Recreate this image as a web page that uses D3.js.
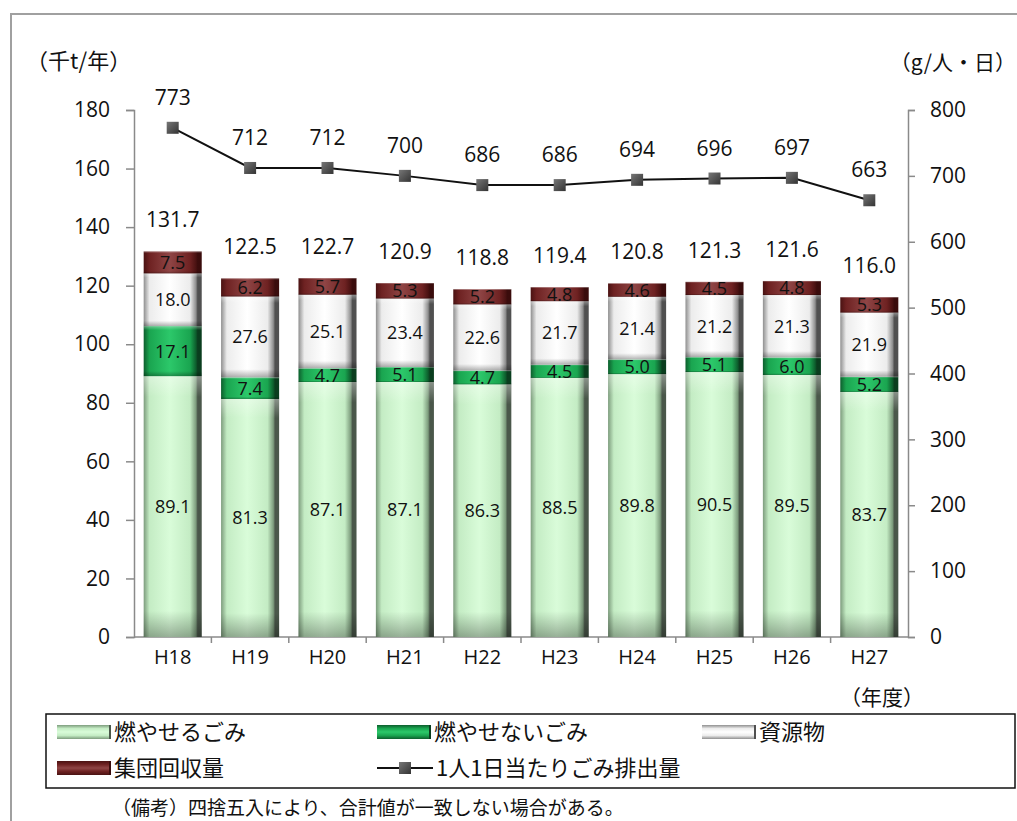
<!DOCTYPE html>
<html><head><meta charset="utf-8">
<script src="https://cdn.jsdelivr.net/npm/d3@7"></script>
<style>
html,body{margin:0;padding:0;background:#fff;}
svg{display:block;}
text{font-family:"Open Sans","Noto Sans CJK JP",sans-serif;fill:#111;}
.jp{font-family:"Noto Sans CJK JP",sans-serif;}
</style></head>
<body>
<svg id="c" width="1017" height="821"></svg>
<script>
const categories = ["H18","H19","H20","H21","H22","H23","H24","H25","H26","H27"];
const burnable   = [89.1, 81.3, 87.1, 87.1, 86.3, 88.5, 89.8, 90.5, 89.5, 83.7];
const nonBurnable= [17.1, 7.4, 4.7, 5.1, 4.7, 4.5, 5.0, 5.1, 6.0, 5.2];
const resources  = [18.0, 27.6, 25.1, 23.4, 22.6, 21.7, 21.4, 21.2, 21.3, 21.9];
const groupCollection = [7.5, 6.2, 5.7, 5.3, 5.2, 4.8, 4.6, 4.5, 4.8, 5.3];
const totals     = [131.7, 122.5, 122.7, 120.9, 118.8, 119.4, 120.8, 121.3, 121.6, 116.0];
const perCapita  = [773, 712, 712, 700, 686, 686, 694, 696, 697, 663];
const leftTicks  = [0,20,40,60,80,100,120,140,160,180];
const rightTicks = [0,100,200,300,400,500,600,700,800];
const seriesNames = ["燃やせるごみ","燃やせないごみ","資源物","集団回収量"];
const lineName = "1人1日当たりごみ排出量";

const svg = d3.select("#c");
const defs = svg.append("defs");

const styles = [
  {key:"b", edge:"#7d9c7d", mid:"#c4ecc4", center:"#d9fcd9", dark:"#4a574a", text:"#222"},
  {key:"n", edge:"#0d5e2d", mid:"#1aa550", center:"#2cc86a", dark:"#0a3d1e", text:"#fff"},
  {key:"r", edge:"#8f8f8f", mid:"#ececec", center:"#ffffff", dark:"#505050", text:"#222"},
  {key:"g", edge:"#4a1212", mid:"#6e2222", center:"#8f4545", dark:"#3a0c0c", text:"#fff"}
];
styles.forEach(s=>{
  const g = defs.append("linearGradient").attr("id","h"+s.key).attr("x1",0).attr("x2",1).attr("y1",0).attr("y2",0);
  [[0,s.edge],[0.1,s.mid],[0.45,s.center],[0.8,s.mid],[0.9,s.edge],[0.93,s.dark],[1,s.dark]].forEach(([o,c])=>g.append("stop").attr("offset",o).attr("stop-color",c));
  const v = defs.append("linearGradient").attr("id","v"+s.key).attr("x1",0).attr("x2",0).attr("y1",0).attr("y2",1);
  [[0,s.edge],[0.25,s.mid],[0.5,s.center],[0.75,s.mid],[1,s.edge]].forEach(([o,c])=>v.append("stop").attr("offset",o).attr("stop-color",c));
});
const shade = defs.append("linearGradient").attr("id","shade").attr("x1",0).attr("x2",0).attr("y1",0).attr("y2",1);
[[0,"#fff",0.35],[0.08,"#fff",0],[0.9,"#000",0],[1,"#000",0.3]].forEach(([o,c,a])=>shade.append("stop").attr("offset",o).attr("stop-color",c).attr("stop-opacity",a));
const mk = defs.append("linearGradient").attr("id","mk").attr("x1",0).attr("x2",1).attr("y1",0).attr("y2",1);
[[0,"#777"],[0.5,"#555"],[1,"#333"]].forEach(([o,c])=>mk.append("stop").attr("offset",o).attr("stop-color",c));

// outer frame
svg.append("path").attr("d","M11,821 V14 H1017").attr("fill","none").attr("stroke","#a0a0a0").attr("stroke-width",2);

const x0 = 134, x1 = 908, yTop = 110, yBot = 637;
const x = d3.scaleBand().domain(categories).range([x0,x1]).paddingInner(0.25).paddingOuter(0.125);
const xb = d3.scaleBand().domain(categories).range([x0,x1]);
const yL = d3.scaleLinear().domain([0,180]).range([yBot,yTop]);
const yR = d3.scaleLinear().domain([0,800]).range([yBot,yTop]);

// axes
const axL = svg.append("g").attr("transform",`translate(${x0},0)`)
  .call(d3.axisLeft(yL).tickValues(leftTicks).tickSize(8).tickPadding(16));
const axR = svg.append("g").attr("transform",`translate(${x1},0)`)
  .call(d3.axisRight(yR).tickValues(rightTicks).tickSize(7).tickPadding(15));
[axL,axR].forEach(a=>{
  a.selectAll("path,line").attr("stroke","#8a8a8a").attr("stroke-width",1.5);
  a.selectAll("text").attr("font-size",21).attr("fill","#111").style("font-family","'Open Sans',sans-serif");
});
// x axis
const axX = svg.append("g").attr("transform",`translate(0,${yBot})`);
axX.append("line").attr("x1",x0).attr("x2",x1).attr("stroke","#8a8a8a").attr("stroke-width",1.5);
axX.selectAll("line.t").data(categories.slice(1)).join("line").attr("class","t")
  .attr("x1",d=>xb(d)).attr("x2",d=>xb(d)).attr("y1",0).attr("y2",6).attr("stroke","#8a8a8a").attr("stroke-width",1.5);
axX.selectAll("text").data(categories).join("text")
  .attr("x",d=>xb(d)+xb.bandwidth()/2).attr("y",27).attr("text-anchor","middle")
  .attr("font-size",20).text(d=>d);

// stacked bars
const seriesData = [burnable, nonBurnable, resources, groupCollection];
const rows = categories.map((c,i)=>({cat:c, b:burnable[i], n:nonBurnable[i], r:resources[i], g:groupCollection[i]}));
const stack = d3.stack().keys(["b","n","r","g"])(rows);
stack.forEach((layer,li)=>{
  const s = styles[li];
  const g = svg.append("g");
  layer.forEach((d,i)=>{
    const bx = x(categories[i]), bw = x.bandwidth();
    const yt = yL(d[1]), yb = yL(d[0]);
    g.append("rect").attr("x",bx).attr("y",yt).attr("width",bw).attr("height",yb-yt).attr("fill",`url(#h${s.key})`);
    g.append("rect").attr("x",bx).attr("y",yt).attr("width",bw).attr("height",yb-yt).attr("fill","url(#shade)");
    g.append("text").attr("x",bx+bw/2).attr("y",(yt+yb)/2).attr("dy","0.36em")
      .attr("text-anchor","middle").attr("font-size",18).attr("fill",s.text)
      .text(seriesData[li][i].toFixed(1));
  });
});

// totals
svg.append("g").selectAll("text").data(totals).join("text")
  .attr("x",(d,i)=>xb(categories[i])+xb.bandwidth()/2).attr("y",(d,i)=>yL(d)-24)
  .attr("text-anchor","middle").attr("font-size",21).text(d=>d.toFixed(1));

// line
const cx = i=>xb(categories[i])+xb.bandwidth()/2;
svg.append("path").datum(perCapita)
  .attr("d",d3.line().x((d,i)=>cx(i)).y(d=>yR(d)))
  .attr("fill","none").attr("stroke","#111").attr("stroke-width",2);
svg.append("g").selectAll("rect").data(perCapita).join("rect")
  .attr("x",(d,i)=>cx(i)-6).attr("y",d=>yR(d)-6).attr("width",12).attr("height",12).attr("fill","url(#mk)");
svg.append("g").selectAll("text").data(perCapita).join("text")
  .attr("x",(d,i)=>cx(i)).attr("y",d=>yR(d)-23)
  .attr("text-anchor","middle").attr("font-size",21).text(d=>d);

// unit labels
svg.append("text").attr("class","jp").attr("x",26).attr("y",69).attr("font-size",22).text("（千t/年）");
svg.append("text").attr("class","jp").attr("x",1016).attr("y",70).attr("text-anchor","end").attr("font-size",21).text("（g/人・日）");
svg.append("text").attr("class","jp").attr("x",924).attr("y",705).attr("text-anchor","end").attr("font-size",21).text("（年度）");

// legend
svg.append("rect").attr("x",46).attr("y",714).attr("width",969).attr("height",74).attr("fill","#fff").attr("stroke","#111").attr("stroke-width",1.5);
const legItems = [
  {name:seriesNames[0], s:0, lx:57, ly:732},
  {name:seriesNames[1], s:1, lx:377, ly:732},
  {name:seriesNames[2], s:2, lx:702, ly:732},
  {name:seriesNames[3], s:3, lx:57, ly:768}
];
const lg = svg.append("g");
legItems.forEach(it=>{
  lg.append("rect").attr("x",it.lx).attr("y",it.ly-7).attr("width",54).attr("height",14).attr("fill",`url(#v${styles[it.s].key})`);
  lg.append("rect").attr("x",it.lx+52).attr("y",it.ly-7).attr("width",2).attr("height",14).attr("fill",styles[it.s].dark);
  lg.append("text").attr("class","jp").attr("x",it.lx+57).attr("y",it.ly).attr("dy","0.36em").attr("font-size",22).text(it.name);
});
lg.append("line").attr("x1",377).attr("x2",433).attr("y1",768).attr("y2",768).attr("stroke","#111").attr("stroke-width",2);
lg.append("rect").attr("x",399).attr("y",762).attr("width",12).attr("height",12).attr("fill","url(#mk)");
lg.append("text").attr("class","jp").attr("x",436).attr("y",768).attr("dy","0.36em").attr("font-size",22).text(lineName);

svg.append("text").attr("class","jp").attr("x",112).attr("y",808).attr("dy","0.36em").attr("font-size",19).text("（備考）四捨五入により、合計値が一致しない場合がある。");
</script>
</body></html>
